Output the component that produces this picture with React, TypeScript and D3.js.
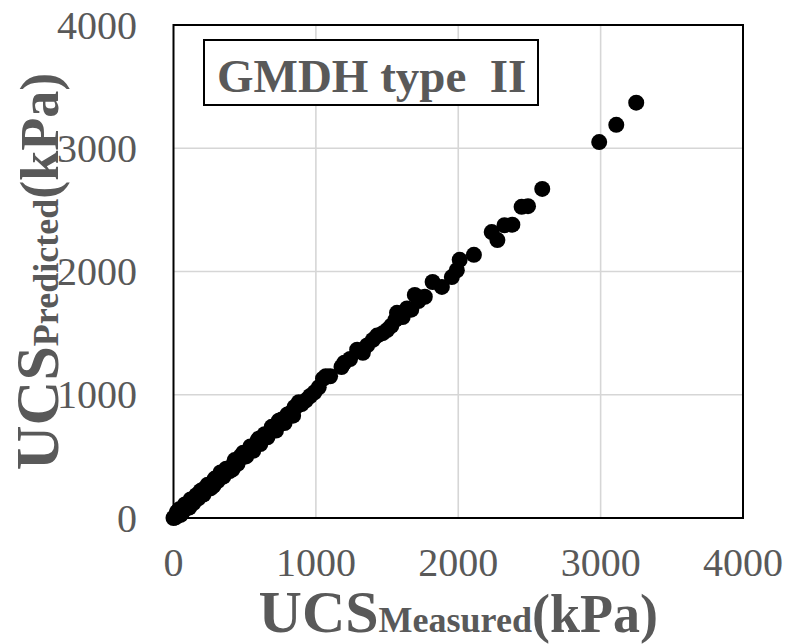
import React from "react";
import * as d3 from "d3";

const measured = [
  0, 10, 20, 30, 45, 55, 70, 85, 100, 115, 130, 150, 165, 180, 200, 215, 230, 250, 270, 285,
  300, 320, 340, 360, 380, 400, 420, 440, 460, 480, 500, 520, 550, 575, 600, 625, 650, 680, 700, 730,
  760, 790, 820, 850, 870, 900, 930, 960, 990, 1020, 1050, 1070, 1100,
  25, 60, 95, 140, 175, 210, 260, 310, 350, 395, 450, 510, 560, 610, 660, 720, 780, 840,
  40, 80, 120, 190, 240, 290, 330, 430, 490, 540, 590, 640, 690, 740, 800, 880,
  15, 50, 110, 160, 205, 280, 370, 415, 470, 600, 760,
  1180, 1200, 1240, 1290, 1330, 1360, 1400, 1430, 1470, 1500, 1530, 1560, 1570, 1610, 1640, 1670,
  1695, 1720, 1765, 1820, 1885, 1955, 1990, 2010, 2110, 2235, 2275, 2325, 2380, 2445, 2490, 2590,
  2990, 3110, 3250,
];
const predicted = [
  0, 12, 18, 35, 40, 60, 68, 90, 105, 110, 140, 148, 175, 185, 210, 220, 245, 255, 280, 290,
  315, 330, 350, 370, 395, 410, 430, 455, 470, 500, 515, 540, 565, 590, 620, 640, 670, 700, 720, 755,
  780, 815, 850, 900, 910, 925, 955, 990, 1020, 1060, 1130, 1150, 1150,
  50, 40, 80, 120, 160, 190, 240, 300, 335, 380, 440, 500, 545, 600, 655, 710, 770, 830,
  70, 110, 150, 220, 270, 320, 370, 470, 530, 580, 630, 680, 740, 790, 840, 940,
  5, 25, 85, 185, 230, 260, 400, 395, 500, 645, 800,
  1225, 1260, 1290, 1365, 1340, 1400, 1445, 1480, 1500, 1525, 1560, 1610, 1665, 1630, 1700, 1690,
  1810, 1760, 1795, 1915, 1875, 1955, 2010, 2095, 2135, 2320, 2255, 2375, 2380, 2525, 2530, 2670,
  3050, 3190, 3370,
];
const tickValues = [0, 1000, 2000, 3000, 4000];
const gridValues = [1000, 2000, 3000];
const legendText = "GMDH type  II";
const titleMain = "UCS";
const xTitleSub = "Measured";
const yTitleSub = "Predicted";
const titleUnit = "(kPa)";

const FONT = "'Liberation Serif', 'Times New Roman', serif";
const GRAY = "#595959";

export default function App() {
  const W = 788;
  const H = 644;
  const x = d3.scaleLinear().domain([0, 4000]).range([173.5, 743]);
  const y = d3.scaleLinear().domain([0, 4000]).range([518, 25]);
  const pts = measured.map((m, i) => ({ m, p: predicted[i] }));
  const cx = (x.range()[0] + x.range()[1]) / 2;
  const cy = (y.range()[0] + y.range()[1]) / 2;

  return (
    <svg
      width={W}
      height={H}
      style={{ position: "absolute", left: 0, top: 0, background: "#fff" }}
      fontFamily={FONT}
    >
      <rect x={0} y={0} width={W} height={H} fill="#fff" />
      {gridValues.map((v) => (
        <g key={"g" + v}>
          <line x1={x(v)} x2={x(v)} y1={y(0)} y2={y(4000)} stroke="#d6d6d6" strokeWidth={1.6} />
          <line x1={x(0)} x2={x(4000)} y1={y(v)} y2={y(v)} stroke="#d6d6d6" strokeWidth={1.6} />
        </g>
      ))}
      <rect
        x={x(0)}
        y={y(4000)}
        width={x(4000) - x(0)}
        height={y(0) - y(4000)}
        fill="none"
        stroke="#000"
        strokeWidth={2}
      />
      {tickValues.map((v) => (
        <text key={"yt" + v} x={137} y={y(v)} dy="0.34em" textAnchor="end" fontSize={40} fill={GRAY}>
          {v}
        </text>
      ))}
      {tickValues.map((v) => (
        <text key={"xt" + v} x={x(v)} y={576} textAnchor="middle" fontSize={40} fill={GRAY}>
          {v}
        </text>
      ))}
      <rect x={204} y={40} width={334} height={65} fill="#fff" stroke="#000" strokeWidth={2} />
      <text x={217} y={92} fontSize={47} fontWeight="bold" fill={GRAY} style={{ whiteSpace: "pre" }}>
        {legendText}
      </text>
      {pts.map((d, i) => (
        <circle key={i} cx={x(d.m)} cy={y(d.p)} r={8} fill="#000" />
      ))}
      <text x={cx} y={632} textAnchor="middle" fontWeight="bold" fill={GRAY}>
        <tspan fontSize={60}>{titleMain}</tspan>
        <tspan fontSize={36}>{xTitleSub}</tspan>
        <tspan fontSize={54}>{titleUnit}</tspan>
      </text>
      <text
        transform={`translate(58,${cy}) rotate(-90)`}
        textAnchor="middle"
        fontWeight="bold"
        fill={GRAY}
      >
        <tspan fontSize={62}>{titleMain}</tspan>
        <tspan fontSize={36}>{yTitleSub}</tspan>
        <tspan fontSize={54}>{titleUnit}</tspan>
      </text>
    </svg>
  );
}
